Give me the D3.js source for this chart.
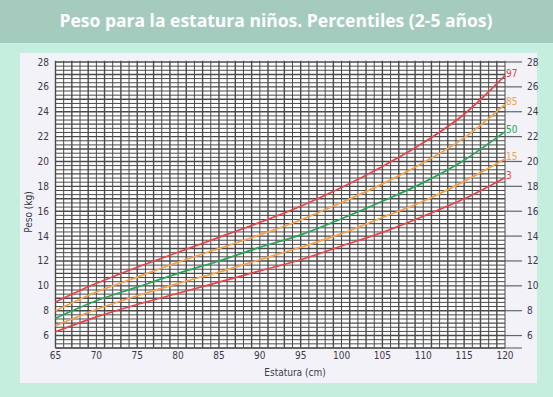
<html>
<head>
<meta charset="utf-8">
<script src="https://cdnjs.cloudflare.com/ajax/libs/d3/7.8.5/d3.min.js"></script>
<style>
  body { margin: 0; background: #c5eede; }
  svg { display: block; }
</style>
</head>
<body>
<svg width="553" height="397"></svg>
<script>
// estatura (cm)
const heights = [65, 70, 75, 80, 85, 90, 95, 100, 105, 110, 115, 120];
// peso (kg) per percentile
const p3  = [6.3, 7.5, 8.5, 9.4, 10.3, 11.2, 12.1, 13.2, 14.3, 15.6, 17.0, 18.7];
const p15 = [6.8, 8.1, 9.2, 10.2, 11.1, 12.1, 13.1, 14.2, 15.5, 16.8, 18.4, 20.2];
const p50 = [7.4, 8.8, 9.9, 11.0, 12.0, 13.1, 14.1, 15.4, 16.8, 18.3, 20.1, 22.4];
const p85 = [8.0, 9.5, 10.7, 11.9, 13.0, 14.1, 15.3, 16.7, 18.2, 19.9, 21.9, 24.6];
const p97 = [8.7, 10.2, 11.5, 12.7, 13.9, 15.1, 16.4, 17.9, 19.6, 21.5, 23.8, 26.9];
const xTicks = [65, 70, 75, 80, 85, 90, 95, 100, 105, 110, 115, 120];
const yTicks = [6, 8, 10, 12, 14, 16, 18, 20, 22, 24, 26, 28];

const series = [
  { name: "3", values: p3, color: "#e8434a" },
  { name: "15", values: p15, color: "#f5a04c" },
  { name: "50", values: p50, color: "#27a35a" },
  { name: "85", values: p85, color: "#f5a04c" },
  { name: "97", values: p97, color: "#e8434a" }
];

const svg = d3.select("svg");
const axisFont = "'Liberation Sans Narrow', 'DejaVu Sans Condensed', sans-serif";

// header
svg.append("rect").attr("x", 0).attr("y", 0).attr("width", 553).attr("height", 43).attr("fill", "#a5cbbf");
svg.append("text")
   .text("Peso para la estatura niños. Percentiles (2-5 años)")
   .attr("x", 276).attr("y", 27)
   .attr("text-anchor", "middle")
   .attr("fill", "#ffffff")
   .attr("font-size", 17.5)
   .attr("font-weight", "bold")
   .attr("style", "font-family:'Open Sans', sans-serif;");

// panel
svg.append("rect").attr("x", 20).attr("y", 53).attr("width", 517).attr("height", 330).attr("fill", "#f3f2f8");

const x = d3.scaleLinear().domain([65, 120]).range([55.5, 505]);
const y = d3.scaleLinear().domain([5, 28]).range([348, 62]);

const grid = svg.append("g");
grid.append("rect")
    .attr("x", x(65)).attr("y", y(28.1))
    .attr("width", x(120) - x(65)).attr("height", y(5) - y(28.1))
    .attr("fill", "#ffffff");

// vertical lines every cm
grid.selectAll(".vl")
    .data(d3.range(65, 121, 1))
    .join("line")
    .attr("class", "vl")
    .attr("x1", d => x(d)).attr("x2", d => x(d))
    .attr("y1", y(28.1)).attr("y2", y(5))
    .attr("stroke", "#4a4a4a")
    .attr("stroke-width", (d, i) => i % 2 ? 1 : 1.4);

// horizontal lines every 1/3 kg
grid.selectAll(".hl")
    .data(d3.range(0, 70))
    .join("line")
    .attr("class", "hl")
    .attr("x1", x(65)).attr("x2", x(120))
    .attr("y1", d => y(5 + d / 3)).attr("y2", d => y(5 + d / 3))
    .attr("stroke", "#4a4a4a")
    .attr("stroke-width", (d, i) => i % 3 ? 1 : 1.4);

// bottom axis line
svg.append("line")
   .attr("x1", x(65)).attr("x2", 522)
   .attr("y1", y(5)).attr("y2", y(5))
   .attr("stroke", "#555").attr("stroke-width", 1.2);

// x tick labels
svg.selectAll(".xt")
   .data(xTicks)
   .join("text")
   .attr("class", "xt")
   .text(d => d)
   .attr("x", d => x(d)).attr("y", 359)
   .attr("text-anchor", "middle")
   .attr("font-size", 10)
   .attr("fill", "#3a3a4a")
   .attr("style", "font-family:" + axisFont);

// left y labels
svg.selectAll(".yl")
   .data(yTicks)
   .join("text")
   .attr("class", "yl")
   .text(d => d)
   .attr("x", 49).attr("y", d => y(d) + 3.5)
   .attr("text-anchor", "end")
   .attr("font-size", 10)
   .attr("fill", "#3a3a4a")
   .attr("style", "font-family:" + axisFont);

// right ticks + labels
svg.selectAll(".rt")
   .data(yTicks)
   .join("line")
   .attr("class", "rt")
   .attr("x1", x(120)).attr("x2", 522)
   .attr("y1", d => y(d)).attr("y2", d => y(d))
   .attr("stroke", "#666").attr("stroke-width", 1.2);

svg.selectAll(".yr")
   .data(yTicks)
   .join("text")
   .attr("class", "yr")
   .text(d => d)
   .attr("x", 527).attr("y", d => y(d) + 3.5)
   .attr("font-size", 10)
   .attr("fill", "#3a3a4a")
   .attr("style", "font-family:" + axisFont);

// axis titles
svg.append("text")
   .text("Estatura (cm)")
   .attr("x", 295).attr("y", 376)
   .attr("text-anchor", "middle")
   .attr("font-size", 10)
   .attr("fill", "#3a3a4a")
   .attr("style", "font-family:" + axisFont);

svg.append("text")
   .text("Peso (kg)")
   .attr("transform", "translate(32, 212) rotate(-90)")
   .attr("text-anchor", "middle")
   .attr("font-size", 10)
   .attr("fill", "#3a3a4a")
   .attr("style", "font-family:" + axisFont);

// percentile curves
const line = d3.line()
    .x((d, i) => x(heights[i]))
    .y(d => y(d))
    .curve(d3.curveMonotoneX);

svg.selectAll(".curve")
   .data(series)
   .join("path")
   .attr("class", "curve")
   .attr("d", d => line(d.values))
   .attr("fill", "none")
   .attr("stroke", d => d.color)
   .attr("stroke-width", 1.7);

svg.selectAll(".plab")
   .data(series)
   .join("text")
   .attr("class", "plab")
   .text(d => d.name)
   .attr("x", x(120) + 1)
   .attr("y", d => y(d.values[d.values.length - 1]) + 1)
   .attr("font-size", 10)
   .attr("fill", d => d.color)
   .attr("style", "font-family:" + axisFont);
</script>
</body>
</html>
